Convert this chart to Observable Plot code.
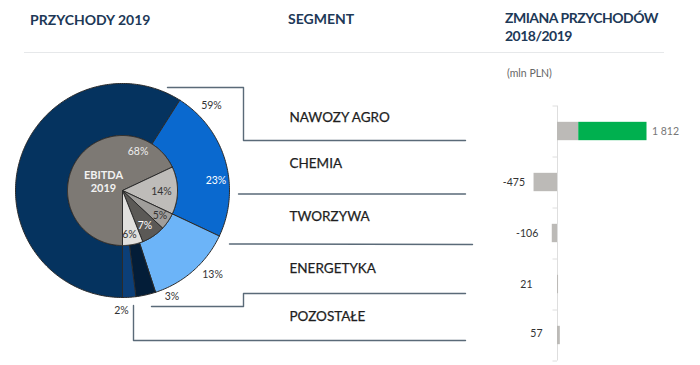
<!DOCTYPE html>
<html><head><meta charset="utf-8">
<script src="https://cdn.jsdelivr.net/npm/d3@7"></script>
<script src="https://cdn.jsdelivr.net/npm/@observablehq/plot@0.6"></script>
<style>
body{margin:0;background:#fff;font-family:Lato,"Open Sans",sans-serif;}
#wrap{position:relative;width:700px;height:365px;overflow:hidden;background:#fff;}
.h{position:absolute;color:#1d3957;font-weight:700;font-size:14px;line-height:18px;white-space:nowrap;}
#sep{position:absolute;left:24px;top:52px;width:640px;height:1px;background:#e6e8ea;}
.unit{position:absolute;left:507px;top:67px;font-size:10.5px;line-height:12px;color:#666;}
#left,#right{position:absolute;top:0;}
#left{left:0px} #right{left:480px}
</style></head>
<body><div id="wrap">
<div class="h" style="left:30px;top:11px">PRZYCHODY 2019</div>
<div class="h" style="left:288px;top:10px">SEGMENT</div>
<div class="h" style="left:505px;top:9px;letter-spacing:-0.5px">ZMIANA PRZYCHODÓW<br>2018/2019</div>
<div id="sep"></div>
<div class="unit">(mln PLN)</div>
<div id="left"></div>
<div id="right"></div>
</div>
<script>
// ---- data ----
const segments = ["NAWOZY AGRO", "CHEMIA", "TWORZYWA", "ENERGETYKA", "POZOSTAŁE"];
const revenueShare = [59, 23, 13, 3, 2];          // % przychodów 2019
const ebitdaShare = [68, 14, 5, 7, 6];            // % EBITDA 2019
const revenueChange = [1812, -475, -106, 21, 57]; // mln PLN
const changeGreyPart = [430, -475, -106, 21, 57]; // grey part of each bar
const changeLabels = ["1 812", "-475", "-106", "21", "57"];
const ebitdaTitle = "EBITDA\n2019";

// ---- styles / layout ----
const revenueColors = ["#05335f", "#0a69cf", "#6cb4f8", "#031d38", "#0c3f78"];
const ebitdaColors = ["#7d7974", "#bebcb9", "#a09e9b", "#5b5956", "#e1e0de"];
const revenueLabelColors = ["#333", "#fff", "#333", "#333", "#333"];
const ebitdaLabelColors = ["#eee", "#333", "#333", "#fff", "#333"];
const cx = 122, cy = 190, rOuter = 107, rInner = 55;
const revLabelPolar = [[46.3, 123], [83.9, 94], [133.2, 123.5], [155.1, 117.4], [180.5, 120]];
const ebLabelPolar = [[21.7, 42], [92.2, 39], [123.7, 45], [147.6, 42], [171, 44.5]];
const segLabelY = [117, 163.5, 216, 268.5, 316];
const leaders = [
  [[167, 87], [243, 87], [243, 140], [465, 140]],
  [[238, 193.5], [465, 193.5]],
  [[229, 243.5], [472, 244]],
  [[151, 306], [243, 306], [243, 293], [465, 293]],
  [[133, 305], [133, 340], [465, 340]]
];
const labelDx = [5, -9, -14, -25, -15];
const labelDy = [0, 0, 0, 0, -2];

const pie = d3.pie().sort(null).startAngle(Math.PI).endAngle(3 * Math.PI);
function polar(a, r) { return [cx + r * Math.sin(a), cy - r * Math.cos(a)]; }
function slicePoints(values, colors, r0, r1, prefix) {
  const pts = [];
  pie(values).forEach((s, i) => {
    const n = Math.max(2, Math.ceil((s.endAngle - s.startAngle) / (Math.PI / 180)));
    const ring = [];
    for (let k = 0; k <= n; k++) ring.push(polar(s.startAngle + (s.endAngle - s.startAngle) * k / n, r1));
    if (r0 > 0) for (let k = n; k >= 0; k--) ring.push(polar(s.startAngle + (s.endAngle - s.startAngle) * k / n, r0));
    else ring.push([cx, cy]);
    ring.push(ring[0]);
    ring.forEach(p => pts.push({key: prefix + i, x: p[0], y: p[1], color: colors[i]}));
  });
  return pts;
}
const outerPts = slicePoints(revenueShare, revenueColors, rInner, rOuter, "r");
const innerPts = slicePoints(ebitdaShare, ebitdaColors, 0, rInner, "e");
const revLabels = revenueShare.map((v, i) => {
  const [x, y] = polar(revLabelPolar[i][0] * Math.PI / 180, revLabelPolar[i][1]);
  return {x, y, t: v + "%", c: revenueLabelColors[i]};
});
const ebLabels = ebitdaShare.map((v, i) => {
  const [x, y] = polar(ebLabelPolar[i][0] * Math.PI / 180, ebLabelPolar[i][1]);
  return {x, y, t: v + "%", c: ebitdaLabelColors[i]};
});
const leaderPts = leaders.flatMap((l, k) => l.map(([x, y]) => ({k, x, y})));
const segRows = segments.map((s, i) => ({s, y: segLabelY[i]}));

const left = Plot.plot({
  width: 480, height: 365, margin: 0,
  x: {domain: [0, 480], range: [0, 480], axis: null},
  y: {domain: [0, 365], range: [0, 365], axis: null},
  color: {type: "identity"},
  style: {background: "transparent", fontFamily: "Lato, 'Open Sans', sans-serif"},
  marks: [
    Plot.line(leaderPts, {x: "x", y: "y", z: "k", stroke: "#5a6a78", strokeWidth: 1.4, curve: "linear"}),
    Plot.line(outerPts, {x: "x", y: "y", z: "key", fill: d => d.color, stroke: "#2b2b2b", strokeWidth: 1, curve: "linear"}),
    Plot.line(innerPts, {x: "x", y: "y", z: "key", fill: d => d.color, stroke: "#2b2b2b", strokeWidth: 1, curve: "linear"}),
    Plot.text(revLabels, {x: "x", y: "y", text: "t", fill: d => d.c, fontSize: 10.5}),
    Plot.text(ebLabels, {x: "x", y: "y", text: "t", fill: d => d.c, fontSize: 10.5}),
    Plot.text([ebitdaTitle], {x: cx - 19, y: cy - 9, text: d => d, fill: "#f2f2f2", fontSize: 11, fontWeight: "bold", lineHeight: 1.15}),
    Plot.text(segRows, {x: 289, y: "y", text: "s", textAnchor: "start", fill: "#1e1e1e", fontSize: 13.5, stroke: "#1e1e1e", strokeWidth: 0.25})
  ]
});
document.getElementById("left").appendChild(left);

const rows = segments.map((s, i) => ({s, i, total: revenueChange[i], grey: changeGreyPart[i], label: changeLabels[i]}));
const right = Plot.plot({
  width: 220, height: 365, margin: 0,
  x: {domain: [-1559, 2895], range: [0, 220], axis: null},
  y: {domain: [-0.5, 4.5], range: [105.5, 360.5], axis: null},
  style: {background: "transparent", fontFamily: "Lato, 'Open Sans', sans-serif"},
  marks: [
    Plot.ruleX([0], {y1: -0.5, y2: 4.5, stroke: "#dedede"}),
    Plot.ruleY(d3.range(segments.length + 1), {y: i => i - 0.5, x1: -91, x2: 0, stroke: "#dedede"}),
    Plot.rect(rows, {x1: 0, x2: "grey", y1: d => d.i - 0.18, y2: d => d.i + 0.18, fill: "#bcbab7"}),
    Plot.rect(rows.filter(d => d.total !== d.grey), {x1: "grey", x2: "total", y1: d => d.i - 0.18, y2: d => d.i + 0.18, fill: "#00b04f"}),
    ...rows.map((r, i) => Plot.text([r], {
      x: d => (d.total > 300 ? d.total : Math.min(0, d.total)), y: "i", text: "label",
      textAnchor: r.total > 300 ? "start" : "end", dx: labelDx[i], dy: labelDy[i],
      fill: r.total > 300 ? "#777" : "#333", fontSize: 10.5
    }))
  ]
});
document.getElementById("right").appendChild(right);
</script>
</body></html>
